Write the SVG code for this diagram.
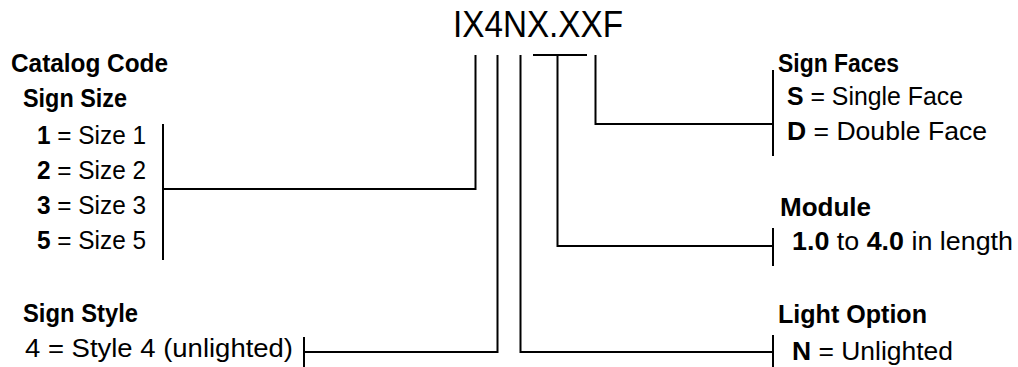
<svg xmlns="http://www.w3.org/2000/svg" width="1018" height="367" viewBox="0 0 1018 367">
<style>
text{font-family:"Liberation Sans",Arial,sans-serif;font-size:25px;fill:#000}
.b{font-weight:bold}
.t{font-size:36px}
.c{fill:none;stroke:#000;stroke-width:2}
</style>
<rect width="1018" height="367" fill="#fff"/>
<g id="code"><text class="t" x="453" y="37" textLength="170" lengthAdjust="spacingAndGlyphs">IX4NX.XXF</text></g>
<g id="catalog"><text class="b" x="11" y="72" textLength="157" lengthAdjust="spacingAndGlyphs">Catalog Code</text></g>
<g id="sign-size">
<text class="b" x="23" y="107" textLength="104" lengthAdjust="spacingAndGlyphs">Sign Size</text>
<text x="37" y="144" textLength="109" lengthAdjust="spacingAndGlyphs"><tspan class="b">1</tspan> = Size 1</text>
<text x="37" y="179" textLength="109" lengthAdjust="spacingAndGlyphs"><tspan class="b">2</tspan> = Size 2</text>
<text x="37" y="214" textLength="109" lengthAdjust="spacingAndGlyphs"><tspan class="b">3</tspan> = Size 3</text>
<text x="37" y="249" textLength="109" lengthAdjust="spacingAndGlyphs"><tspan class="b">5</tspan> = Size 5</text>
</g>
<g id="sign-style">
<text class="b" x="23" y="322" textLength="115" lengthAdjust="spacingAndGlyphs">Sign Style</text>
<text x="25" y="357" textLength="268" lengthAdjust="spacingAndGlyphs">4 = Style 4 (unlighted)</text>
</g>
<g id="sign-faces">
<text class="b" x="778" y="72" textLength="121" lengthAdjust="spacingAndGlyphs">Sign Faces</text>
<text x="787" y="105" textLength="176" lengthAdjust="spacingAndGlyphs"><tspan class="b">S</tspan> = Single Face</text>
<text x="787" y="140" textLength="200" lengthAdjust="spacingAndGlyphs"><tspan class="b">D</tspan> = Double Face</text>
</g>
<g id="module">
<text class="b" x="780" y="216" textLength="91" lengthAdjust="spacingAndGlyphs">Module</text>
<text x="792" y="250" textLength="221" lengthAdjust="spacingAndGlyphs"><tspan class="b">1.0</tspan> to <tspan class="b">4.0</tspan> in length</text>
</g>
<g id="light-option">
<text class="b" x="778" y="323" textLength="149" lengthAdjust="spacingAndGlyphs">Light Option</text>
<text x="792" y="360" textLength="161" lengthAdjust="spacingAndGlyphs"><tspan class="b">N</tspan> = Unlighted</text>
</g>
<g id="connectors">
<path class="c" d="M475.5 55V189H163M163 124V260"/>
<path class="c" d="M497.5 55V352H304M304 337V367"/>
<path class="c" d="M520.5 55V352H773M773 335V367"/>
<path class="c" d="M533 55H587M557.5 55V246H773M773 228V266"/>
<path class="c" d="M595.5 55V124H773M773 70V156"/>
</g>
</svg>
